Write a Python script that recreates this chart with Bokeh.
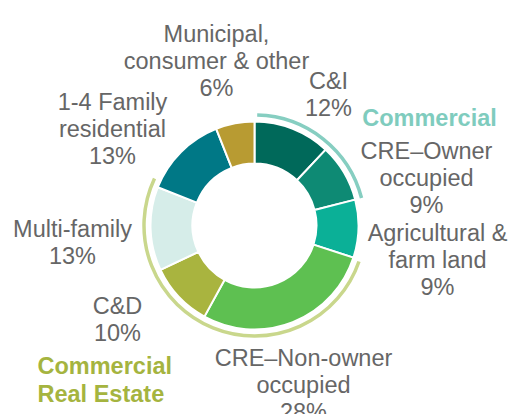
import numpy as np
from bokeh.plotting import figure
from bokeh.models import Range1d
from bokeh.embed import file_html
from bokeh.resources import INLINE
from bokeh.core.properties import value

# ---- data ----
categories = ["C&I", "CRE–Owner\noccupied", "Agricultural &\nfarm land",
              "CRE–Non-owner\noccupied", "C&D", "Multi-family",
              "1-4 Family\nresidential", "Municipal,\nconsumer & other"]
shares = [12, 9, 9, 28, 10, 13, 13, 6]
colors = ["#00695A", "#0E8A74", "#0BB097", "#5EC051",
          "#A9B43F", "#D6EDE9", "#007886", "#B89B32"]
groups = ["Commercial", "Commercial\nReal Estate"]
group_members = [[0, 1], [3, 4, 5]]
group_colors = ["#86CEC1", "#C9D78C"]
group_text_colors = ["#7FCCBE", "#A5B43F"]

# ---- layout (screen pixel coordinates of the 512x414 window) ----
W, H = 512, 414
def sy(y):
    return H - y

cx, cy = 254, 225
r_in, r_out, r_arc = 62, 104, 110.5
label_pos = [(328, 80), (426, 150), (437, 232), (303, 357),
             (117, 305), (72, 228), (112, 101), (216, 33)]
group_pos = [(429, 117, "center"), (37, 365, "left")]
group_pad = [(1.4, 0.0), (1.0, 3.6)]  # degrees (start side, end side)
line_gap = 27.2
font = "Liberation Sans"
fsize = "23.5px"
text_gray = "#666666"

p = figure(width=W, height=H, output_backend="svg", toolbar_location=None,
           x_range=Range1d(0, W), y_range=Range1d(0, H),
           min_border=0)
p.axis.visible = False
p.grid.visible = False
p.outline_line_color = None
p.background_fill_color = "white"

vals = np.array(shares, dtype=float)
cum = np.cumsum(vals) / vals.sum() * 2 * np.pi
prev = np.concatenate([[0.0], cum[:-1]])
starts = np.pi / 2 - cum
ends = np.pi / 2 - prev

p.annular_wedge(x=cx, y=sy(cy), inner_radius=r_in, outer_radius=r_out,
                start_angle=starts, end_angle=ends,
                fill_color=colors, line_color="white", line_width=2)

for gi, members in enumerate(group_members):
    a_hi = ends[members[0]] - np.radians(group_pad[gi][0])
    a_lo = starts[members[-1]] - np.radians(group_pad[gi][1])
    p.arc(x=cx, y=sy(cy), radius=r_arc, start_angle=a_lo, end_angle=a_hi,
          line_color=group_colors[gi], line_width=3.5)

for i, cat in enumerate(categories):
    lines = cat.split("\n") + [f"{shares[i]}%"]
    x0, y0 = label_pos[i]
    for k, ln in enumerate(lines):
        p.text(x=[x0], y=[sy(y0 + k * line_gap)], text=[ln],
               text_align="center", text_baseline="alphabetic",
               text_font=value(font), text_font_size=fsize,
               text_color=text_gray)

for gi, g in enumerate(groups):
    x0, y0, al = group_pos[gi]
    for k, ln in enumerate(g.split("\n")):
        p.text(x=[x0], y=[sy(y0 + k * 28)], text=[ln],
               text_align=al, text_baseline="alphabetic",
               text_font=value(font), text_font_size=fsize,
               text_font_style="bold", text_color=group_text_colors[gi])

open("out.html", "w").write(file_html(p, INLINE))
